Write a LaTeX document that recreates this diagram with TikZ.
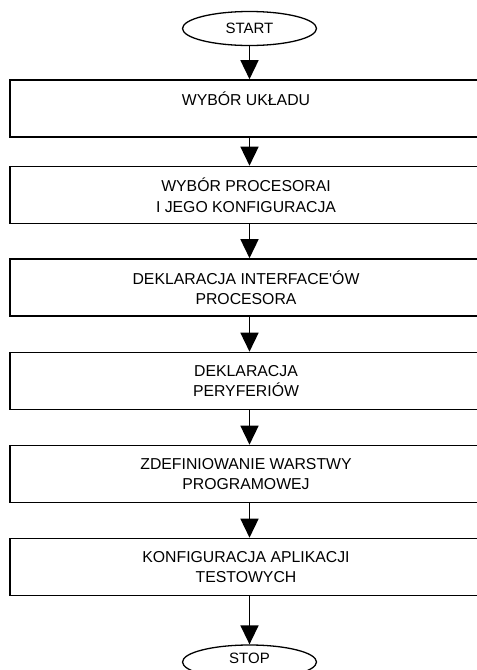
\documentclass[tikz,border=0pt]{standalone}
\usepackage{fontspec}
\setmainfont{Liberation Sans}
\usetikzlibrary{shapes.geometric,arrows.meta}
\begin{document}
\begin{tikzpicture}[x=1pt,y=1pt,
  stepbox/.style={draw, line width=1.6pt, minimum width=472pt, minimum height=57pt,
    align=center, inner sep=0pt, font=\fontsize{15.8}{20.5}\selectfont},
  term/.style={draw, ellipse, line width=1.3pt, minimum width=134pt, minimum height=34pt,
    inner sep=0pt, font=\fontsize{15}{18}\selectfont},
  arr/.style={line width=1.5pt, -{Triangle[width=18pt,length=19pt]}}]
\clip (0,0) rectangle (477,-670);
\fill[white] (0,0) rectangle (477,-670);
\node[term] (start) at (249.5,-28.5) {START};
\node[stepbox] (b1) at (246,-108.5) {WYBÓR UKŁADU\\\phantom{X}};
\node[stepbox] (b2) at (246,-195) {WYBÓR PROCESORAI\\I JEGO KONFIGURACJA};
\node[stepbox] (b3) at (246,-287.5) {DEKLARACJA INTERFACE\textquotesingle ÓW\\PROCESORA};
\node[stepbox] (b4) at (246,-381) {DEKLARACJA\\PERYFERIÓW};
\node[stepbox] (b5) at (246,-474) {ZDEFINIOWANIE WARSTWY\\PROGRAMOWEJ};
\node[stepbox] (b6) at (246,-567) {KONFIGURACJA APLIKACJI\\TESTOWYCH};
\node[term] (stop) at (249.5,-662) {\raisebox{-1pt}[0pt][0pt]{STOP}};
\draw[arr] (start) -- (start |- b1.north);
\draw[arr] (start |- b1.south) -- (start |- b2.north);
\draw[arr] (start |- b2.south) -- (start |- b3.north);
\draw[arr] (start |- b3.south) -- (start |- b4.north);
\draw[arr] (start |- b4.south) -- (start |- b5.north);
\draw[arr] (start |- b5.south) -- (start |- b6.north);
\draw[arr] (start |- b6.south) -- (stop);
\end{tikzpicture}
\end{document}
